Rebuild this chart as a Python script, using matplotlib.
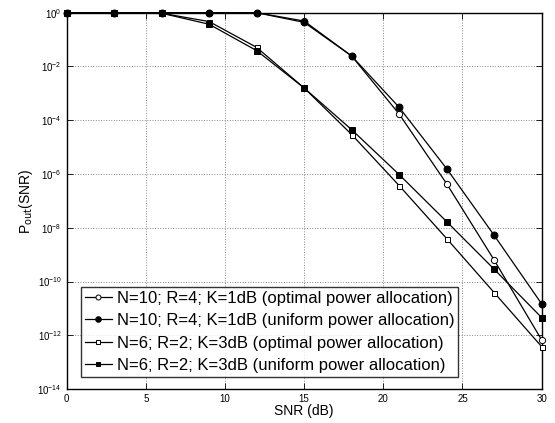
import numpy as np
import matplotlib
matplotlib.use("Agg")
import matplotlib.pyplot as plt
from matplotlib.ticker import LogLocator, NullLocator

plt.rcParams['font.family'] = ['Liberation Sans', 'DejaVu Sans']

snr = [0, 3, 6, 9, 12, 15, 18, 21, 24, 27, 30]

# log10 of outage probability
n10_opt = [0, 0, 0, 0, 0, -0.31, -1.61, -3.77, -6.36, -9.20, -12.17]
n10_uni = [0, 0, 0, 0, 0, -0.36, -1.61, -3.52, -5.80, -8.28, -10.83]
n6_opt = [0, 0, -0.02, -0.33, -1.29, -2.80, -4.53, -6.43, -8.40, -10.41, -12.42]
n6_uni = [0, 0, -0.02, -0.43, -1.41, -2.80, -4.35, -6.02, -7.77, -9.54, -11.34]

labels = ["N=10; R=4; K=1dB (optimal power allocation)",
          "N=10; R=4; K=1dB (uniform power allocation)",
          "N=6; R=2; K=3dB (optimal power allocation)",
          "N=6; R=2; K=3dB (uniform power allocation)"]

fig = plt.figure(figsize=(5.55, 4.23), dpi=100)
ax = fig.add_axes([0.120, 0.080, 0.856, 0.890])

styles = [dict(marker='o', mfc='white', ms=4.5),
          dict(marker='o', mfc='black', ms=5),
          dict(marker='s', mfc='white', ms=3.6),
          dict(marker='s', mfc='black', ms=4)]
for ys, lab, st in zip([n10_opt, n10_uni, n6_opt, n6_uni], labels, styles):
    ax.semilogy(snr, 10.0 ** np.array(ys), color='black', lw=0.9, mec='black',
                mew=0.7, label=lab, clip_on=False, zorder=3, **st)

ax.set_xlim(0, 30)
ax.set_ylim(1e-14, 1)
ax.set_xticks(range(0, 31, 5))
ax.yaxis.set_major_locator(LogLocator(base=100))
ax.yaxis.set_minor_locator(NullLocator())
ax.tick_params(direction='in', top=True, right=True, labelsize=7, length=4, width=0.6)
ax.grid(True, linestyle=':', color='#888888', lw=0.7)
for s in ax.spines.values():
    s.set_linewidth(1.0)

ax.set_xlabel("SNR (dB)", fontsize=10, labelpad=0)
ax.set_ylabel(r"P$_{\mathrm{out}}$(SNR)", fontsize=10, labelpad=2)

leg = ax.legend(loc='lower left', fontsize=12, frameon=True, fancybox=False,
                edgecolor='black', borderpad=0.25, labelspacing=0.45,
                handlelength=1.6, handletextpad=0.3, borderaxespad=0,
                markerscale=0.8, bbox_to_anchor=(0.03, 0.031))
leg.get_frame().set_linewidth(1.0)
leg.set_zorder(5)

fig.savefig("out.png", dpi=100)
